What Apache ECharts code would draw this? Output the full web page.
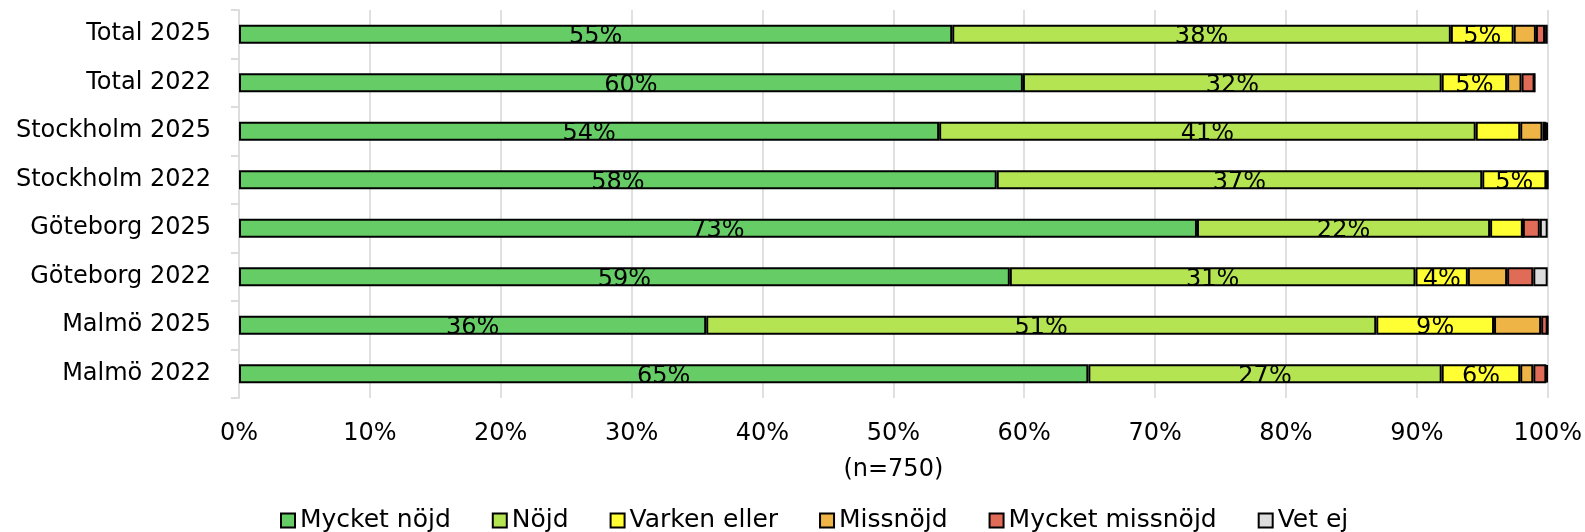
<!DOCTYPE html>
<html><head><meta charset="utf-8">
<script src="https://cdn.jsdelivr.net/npm/echarts@6/dist/echarts.min.js"></script>
<style>html,body{margin:0;padding:0;background:#fff}#c{width:1585px;height:532px}</style>
</head><body><div id="c"></div>
<script>
const categories = ["Total 2025","Total 2022","Stockholm 2025","Stockholm 2022","Göteborg 2025","Göteborg 2022","Malmö 2025","Malmö 2022"];
const seriesNames = ["Mycket nöjd","Nöjd","Varken eller","Missnöjd","Mycket missnöjd","Vet ej"];
const mycketNojd     = [54.5, 59.9, 53.5, 57.9, 73.2, 58.9, 35.7, 64.9];
const nojd           = [38.1, 32.0, 41.0, 37.1, 22.4, 31.0, 51.2, 27.0];
const varkenEller    = [4.8, 5.0, 3.4, 4.9, 2.5, 4.0, 9.0, 6.0];
const missnojd       = [1.7, 1.1, 1.7, 0.0, 0.0, 3.0, 3.6, 1.0];
const mycketMissnojd = [0.7, 1.0, 0.3, 0.1, 1.3, 2.0, 0.5, 1.0];
const vetEj          = [0.2, 0.0, 0.1, 0.0, 0.6, 1.1, 0.0, 0.1];
const xTicks = [0,10,20,30,40,50,60,70,80,90,100];
const colors = ["#66CC66","#B4E451","#FFFF33","#EEB446","#E06B57","#DCDCDC"];
const allData = [mycketNojd, nojd, varkenEller, missnojd, mycketMissnojd, vetEj];
const FONT = "DejaVu Sans";

const chart = echarts.init(document.getElementById('c'));
chart.setOption({
  animation: false,
  textStyle: {fontFamily: FONT},
  grid: {left: 239, right: 36, top: 10, bottom: 134, containLabel: false},
  legend: {
    top: 503, left: 275,
    itemWidth: 14, itemHeight: 14, itemGap: 41,
    textStyle: {fontSize: 25, color: '#000', fontFamily: FONT},
    data: seriesNames.map((n,i)=>({name:n, icon:'rect', itemStyle:{color:colors[i], borderColor:'#000', borderWidth:2}}))
  },
  xAxis: {
    type: 'value', min: 0, max: 100, interval: 10,
    name: '(n=750)', nameLocation: 'middle', nameGap: 60,
    nameTextStyle: {fontSize: 24, color: '#000', fontFamily: FONT},
    axisLine: {show: false}, axisTick: {show: false},
    axisLabel: {fontSize: 24, color: '#000', margin: 24, formatter: v => xTicks.includes(v) ? v + '%' : ''},
    splitLine: {show: true, lineStyle: {color: '#E0E0E0', width: 2}}
  },
  yAxis: {
    type: 'category', inverse: true, data: categories,
    axisLine: {show: true, lineStyle: {color: '#DDDDDD', width: 2}},
    axisTick: {show: true, length: 8, lineStyle: {color: '#DDDDDD', width: 2}},
    axisLabel: {fontSize: 24, color: '#000', margin: 28, padding: [4, 0, 0, 0]}
  },
  series: seriesNames.map((n,i)=>({
    name: n, type: 'bar', stack: 'total', barWidth: 19,
    itemStyle: {color: colors[i], borderColor: '#000', borderWidth: 2},
    label: {
      show: true, position: 'inside', color: '#000', fontSize: 24, fontFamily: FONT, offset: [0, 3],
      formatter: p => p.value >= 3.9 ? Math.round(p.value) + '%' : ''
    },
    data: allData[i]
  }))
});
</script></body></html>
